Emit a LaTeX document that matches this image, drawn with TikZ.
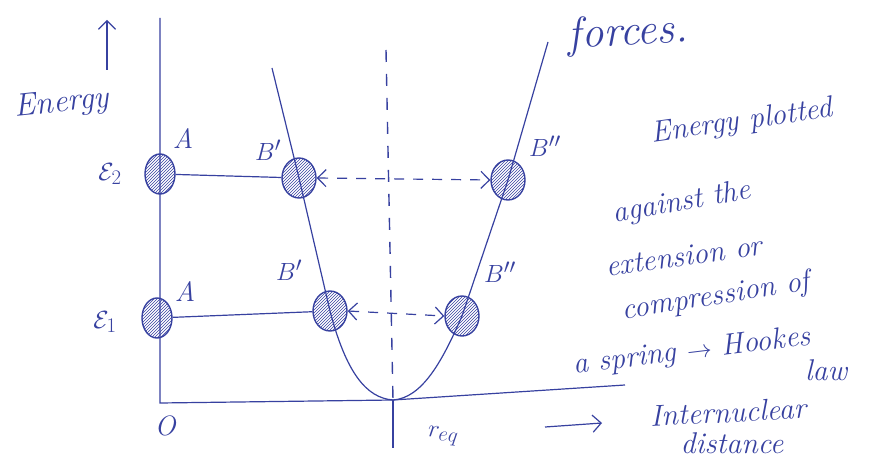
\documentclass[tikz,border=0pt]{standalone}
\usepackage{amsmath,amssymb}
\usepackage{xcolor}
\usepackage{tikz}
\usetikzlibrary{arrows.meta,patterns,shapes.geometric}
\definecolor{ink}{RGB}{55,65,160}

\begin{document}
\begin{tikzpicture}[x=1pt, y=-1pt, every node/.style={text=ink, inner sep=1pt}, ball/.style={ellipse, draw=ink, line width=1.4pt, minimum width=34pt, minimum height=40pt, inner sep=0pt, pattern=north east lines, pattern color=ink}, ln/.style={draw=ink, line width=1.2pt}, arr/.style={-{Straight Barb[length=3mm]}, ink, line width=1.2pt}, darr/.style={{Straight Barb[length=3mm]}-{Straight Barb[length=3mm]}, ink, line width=1.2pt, dash pattern=on 10pt off 9pt}, lbl/.style={font=\fontsize{28}{30}\selectfont\itshape}, note/.style={font=\fontsize{30}{32}\selectfont\itshape}]
\useasboundingbox (0,0) rectangle (885,462);
\coordinate (ytop) at (160,18); \coordinate (orig) at (160,403); \coordinate (bot) at (393,400); \coordinate (xend) at (625,385);
\coordinate (ltop) at (272,68); \coordinate (rtop) at (548,42); \coordinate (vtop) at (386,50); \coordinate (vbot) at (393,448);
\coordinate (ea) at (107,70); \coordinate (eb) at (107,20); \coordinate (ia) at (545,427); \coordinate (ib) at (602,423);
\draw[ln] (ytop) -- (orig) -- (bot) -- (xend);
\draw[ink, line width=1.4pt, dash pattern=on 12pt off 12pt] (vtop) -- (bot);
\draw[ln] (bot) -- (vbot);
\draw[arr] (ea) -- (eb);
\node[ball, minimum width=30pt] (A2) at (160,174) {};
\node[ball, minimum width=30pt] (A1) at (157,318) {};
\node[ball] (B2l) at (299,178) {};
\node[ball] (B1l) at (330,311) {};
\node[ball] (B2r) at (508,180) {};
\node[ball] (B1r) at (462,316) {};
\draw[ln] (A2) -- (B2l); \draw[ln] (A1) -- (B1l);
\draw[darr] (B2l.east) -- (B2r.west); \draw[darr] (B1l.east) -- (B1r.west);
\draw[ln] (ltop) -- (B2l.center) -- (B1l.center) .. controls (346,372) and (366,398) .. (bot) .. controls (422,398) and (442,362) .. (B1r.center) -- (B2r.center) -- (rtop);
\node[lbl, rotate=6] (en) at (62,104) {\fontsize{32}{34}\selectfont Energy};
\node[lbl] (e2) at (110,174) {$\mathcal{E}_2$};
\node[lbl] (e1) at (105,322) {$\mathcal{E}_1$};
\node[lbl] (la2) at (183,139) {A};
\node[lbl] (la1) at (185,292) {A};
\node[lbl] (lb2) at (268,150) {$B'$};
\node[lbl] (lb1) at (289,270) {$B'$};
\node[lbl] (lc2) at (545,146) {$B''$};
\node[lbl] (lc1) at (500,272) {$B''$};
\node[lbl] (o) at (165,426) {O};
\node[lbl, rotate=-5] (req) at (443,436) {$r_{eq}$};
\node[note, rotate=3, font=\fontsize{44}{46}\selectfont\itshape] (forces) at (628,34) {forces.};
\node[note, rotate=8] (t1) at (742,122) {Energy plotted};
\node[note, rotate=10] (t2) at (682,203) {against the};
\node[note, rotate=8] (t3) at (684,256) {extension or};
\node[note, rotate=9] (t4) at (716,297) {compression of};
\node[note, rotate=7] (t5) at (692,352) {a spring $\rightarrow$ Hookes};
\node[note] (t6) at (826,370) {law};
\node[note, rotate=3] (t7) at (728,412) {Internuclear};
\node[note] (t8) at (732,443) {distance};
\draw[arr] (ia) -- (ib);
\end{tikzpicture}
\end{document}
